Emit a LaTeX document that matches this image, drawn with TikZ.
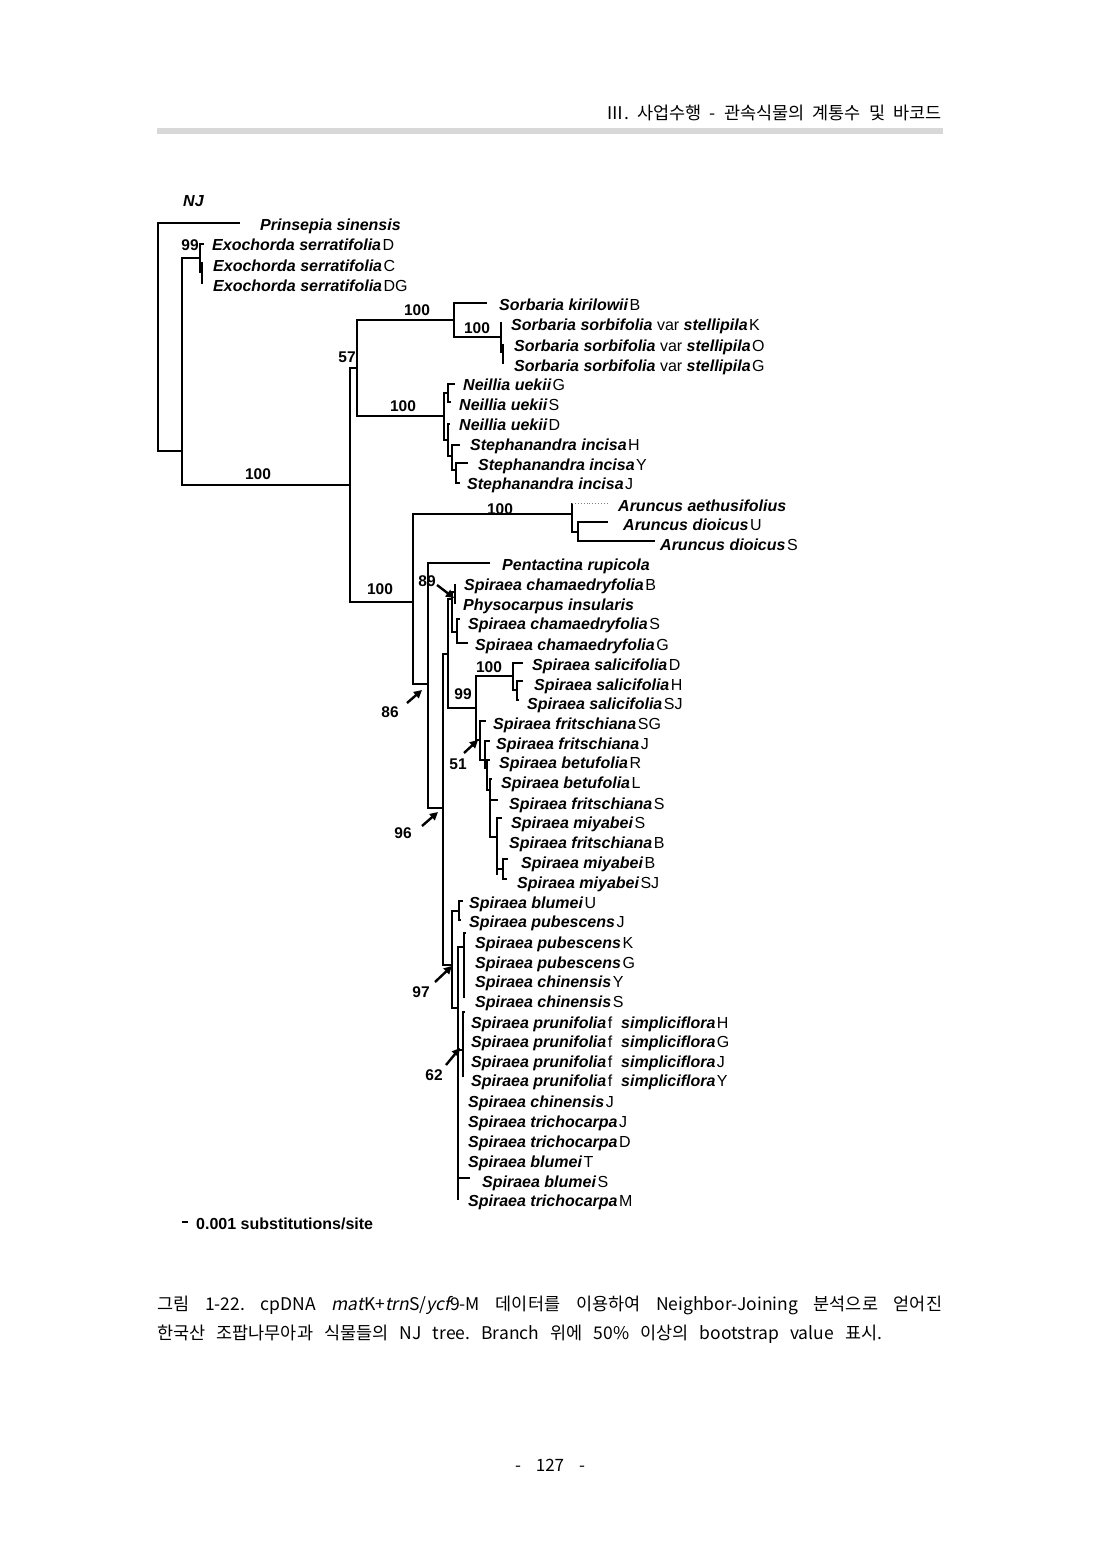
\documentclass[tikz,border=0pt]{standalone}
\usepackage{fontspec}
\setmainfont{Liberation Sans}
\newfontfamily\krfont{Noto Sans CJK KR}
\newfontfamily\kritfont[FakeSlant=0.2]{Noto Sans CJK KR}
\usetikzlibrary{arrows.meta}
\newcommand{\bi}[1]{{\bfseries\itshape #1}}
\newcommand{\taxon}[2]{\bi{#1}\hspace{1.5pt}#2}
\definecolor{barg}{RGB}{216,216,216}
\frenchspacing
\begin{document}
\begin{tikzpicture}[x=1pt,y=-1pt,
  br/.style={line width=1.1pt},
  lab/.style={anchor=base west, inner sep=0pt, font=\fontsize{16}{18}\selectfont},
  bs/.style={inner sep=0pt, font=\fontsize{15.5}{18}\selectfont\bfseries},
  arr/.style={line width=2.4pt, -{Triangle[length=8pt,width=8pt]}}]
\fill[white] (0,0) rectangle (1100,1554);
\useasboundingbox (0,0) rectangle (1100,1554);
% header
\node[anchor=base east, inner sep=0pt, font=\krfont\fontsize{17.5}{20}\selectfont] (hdr) at (942,120) {\makebox[335pt][s]{Ⅲ. 사업수행 - 관속식물의 계통수 및 바코드}};
\fill[barg] (157,128) rectangle (943,134);
% title
\node[anchor=base west, inner sep=0pt, font=\fontsize{16}{18}\selectfont] (nj) at (183,207) {\bi{NJ}};
% branches
\draw[br]
 (240,223)--(158,223)--(158,451)--(182,451)
 (201,258)--(182,258)--(182,485)--(350,485)
 (204,244)--(200,244)--(200,272)--(202,272)
 (202,262)--(202,284)
 (357,368)--(350,368)--(350,602)--(413,602)
 (454,320)--(357,320)--(357,416)--(444,416)
 (487,303)--(454,303)--(454,337)--(501,337)
 (501,322)--(501,352)--(503,352) (503,344)--(503,364)
 (448,393)--(444,393)--(444,440)--(448,440)
 (455,384)--(448,384)--(448,402)--(451,402)
 (450,424)--(448,424)--(448,456)--(452,456)
 (460,445)--(452,445)--(452,470)--(456,470)
 (468,463)--(456,463)--(456,483)--(460,483)
 (572,514)--(413,514)--(413,684)--(428,684)
 (572,503)--(572,532)--(578,532)
 (608,522)--(578,522)--(578,541)--(655,541)
 (490,563)--(428,563)--(428,808)--(443,808)
 (448,654)--(443,654)--(443,965)--(452,965)
 (452,599)--(448,599)--(448,708)--(476,708)
 (455,592)--(452,592)--(452,632)--(457,632)
 (455,584)--(455,604)
 (460,619)--(457,619)--(457,643)--(468,643)
 (513,676)--(476,676)--(476,740)--(480,740)
 (523,663)--(513,663)--(513,690)--(517,690)
 (523,681)--(517,681)--(517,700)--(519,700)
 (486,721)--(480,721)--(480,760)--(485,760)
 (490,741)--(485,741)--(485,768)--(487,768)
 (490,760)--(487,760)--(487,790)--(490,790)
 (492,779)--(490,779)--(490,837)--(497,837)
 (490,800)--(498,800)
 (502,818)--(497,818)--(497,875)
 (497,869)--(503,869)
 (508,859)--(503,859)--(503,879)--(507,879)
 (459,911)--(452,911)--(452,1008)--(458,1008)
 (463,901)--(459,901)--(459,920)--(461,920)
 (464,947)--(458,947)--(458,1200)
 (466,933)--(464,933)--(464,998)
 (458,1050)--(463,1050)
 (465,1012)--(463,1012)--(463,1077)
 (458,1178)--(470,1178);
\draw[line width=2.2pt] (497,840)--(497,855);
\draw[gray, dotted, line width=0.9pt] (572,503)--(609,503);
% taxa
\node[lab] (t1) at (260,231) {\bi{Prinsepia sinensis}};
\node[lab] (t2) at (212,251) {\taxon{Exochorda serratifolia}{D}};
\node[lab] (t3) at (213,271) {\taxon{Exochorda serratifolia}{C}};
\node[lab] (t4) at (213,291) {\taxon{Exochorda serratifolia}{DG}};
\node[lab] (t5) at (499,310) {\taxon{Sorbaria kirilowii}{B}};
\node[lab] (t6) at (511,330) {\bi{Sorbaria sorbifolia} var \taxon{stellipila}{K}};
\node[lab] (t7) at (514,351) {\bi{Sorbaria sorbifolia} var \taxon{stellipila}{O}};
\node[lab] (t8) at (514,371) {\bi{Sorbaria sorbifolia} var \taxon{stellipila}{G}};
\node[lab] (t9) at (463,390) {\taxon{Neillia uekii}{G}};
\node[lab] (t10) at (459,410) {\taxon{Neillia uekii}{S}};
\node[lab] (t11) at (459,430) {\taxon{Neillia uekii}{D}};
\node[lab] (t12) at (470,450) {\taxon{Stephanandra incisa}{H}};
\node[lab] (t13) at (478,470) {\taxon{Stephanandra incisa}{Y}};
\node[lab] (t14) at (467,489) {\taxon{Stephanandra incisa}{J}};
\node[lab] (t15) at (618,511) {\bi{Aruncus aethusifolius}};
\node[lab] (t16) at (623,530) {\taxon{Aruncus dioicus}{U}};
\node[lab] (t17) at (660,550) {\taxon{Aruncus dioicus}{S}};
\node[lab] (t18) at (502,570) {\bi{Pentactina rupicola}};
\node[lab] (t19) at (464,590) {\taxon{Spiraea chamaedryfolia}{B}};
\node[lab] (t20) at (463,610) {\bi{Physocarpus insularis}};
\node[lab] (t21) at (468,629) {\taxon{Spiraea chamaedryfolia}{S}};
\node[lab] (t22) at (475,650) {\taxon{Spiraea chamaedryfolia}{G}};
\node[lab] (t23) at (532,670) {\taxon{Spiraea salicifolia}{D}};
\node[lab] (t24) at (534,690) {\taxon{Spiraea salicifolia}{H}};
\node[lab] (t25) at (527,709) {\taxon{Spiraea salicifolia}{SJ}};
\node[lab] (t26) at (493,729) {\taxon{Spiraea fritschiana}{SG}};
\node[lab] (t27) at (496,749) {\taxon{Spiraea fritschiana}{J}};
\node[lab] (t28) at (499,768) {\taxon{Spiraea betufolia}{R}};
\node[lab] (t29) at (501,788) {\taxon{Spiraea betufolia}{L}};
\node[lab] (t30) at (509,809) {\taxon{Spiraea fritschiana}{S}};
\node[lab] (t31) at (511,828) {\taxon{Spiraea miyabei}{S}};
\node[lab] (t32) at (509,848) {\taxon{Spiraea fritschiana}{B}};
\node[lab] (t33) at (521,868) {\taxon{Spiraea miyabei}{B}};
\node[lab] (t34) at (517,888) {\taxon{Spiraea miyabei}{SJ}};
\node[lab] (t35) at (469,908) {\taxon{Spiraea blumei}{U}};
\node[lab] (t36) at (469,927) {\taxon{Spiraea pubescens}{J}};
\node[lab] (t37) at (475,948) {\taxon{Spiraea pubescens}{K}};
\node[lab] (t38) at (475,968) {\taxon{Spiraea pubescens}{G}};
\node[lab] (t39) at (475,987) {\taxon{Spiraea chinensis}{Y}};
\node[lab] (t40) at (475,1007) {\taxon{Spiraea chinensis}{S}};
\node[lab] (t41) at (471,1028) {\bi{Spiraea prunifolia}\hspace{1.5pt}f\ \ \taxon{simpliciflora}{H}};
\node[lab] (t42) at (471,1047) {\bi{Spiraea prunifolia}\hspace{1.5pt}f\ \ \taxon{simpliciflora}{G}};
\node[lab] (t43) at (471,1067) {\bi{Spiraea prunifolia}\hspace{1.5pt}f\ \ \taxon{simpliciflora}{J}};
\node[lab] (t44) at (471,1086) {\bi{Spiraea prunifolia}\hspace{1.5pt}f\ \ \taxon{simpliciflora}{Y}};
\node[lab] (t45) at (468,1107) {\taxon{Spiraea chinensis}{J}};
\node[lab] (t46) at (468,1127) {\taxon{Spiraea trichocarpa}{J}};
\node[lab] (t47) at (468,1147) {\taxon{Spiraea trichocarpa}{D}};
\node[lab] (t48) at (468,1167) {\taxon{Spiraea blumei}{T}};
\node[lab] (t49) at (482,1187) {\taxon{Spiraea blumei}{S}};
\node[lab] (t50) at (468,1206) {\taxon{Spiraea trichocarpa}{M}};
% bootstrap values
\node[bs] (b1) at (190,245) {99};
\node[bs] (b2) at (417,310) {100};
\node[bs] (b3) at (477,328) {100};
\node[bs] (b4) at (347,357) {57};
\node[bs] (b5) at (403,406) {100};
\node[bs] (b6) at (258,474) {100};
\node[bs] (b7) at (500,509) {100};
\node[bs] (b8) at (380,589) {100};
\node[bs] (b9) at (427,581) {89};
\node[bs] (b10) at (489,667) {100};
\node[bs] (b11) at (463,694) {99};
\node[bs] (b12) at (390,712) {86};
\node[bs] (b13) at (458,764) {51};
\node[bs] (b14) at (403,833) {96};
\node[bs] (b15) at (421,992) {97};
\node[bs] (b16) at (434,1075) {62};
% arrows
\coordinate (a9s) at (437,585); \coordinate (a9e) at (454,598);
\coordinate (a12s) at (407,703); \coordinate (a12e) at (422,690);
\coordinate (a13s) at (464,753); \coordinate (a13e) at (478,740);
\coordinate (a14s) at (422,826); \coordinate (a14e) at (438,812);
\coordinate (a15s) at (435,982); \coordinate (a15e) at (452,966);
\coordinate (a16s) at (446,1065); \coordinate (a16e) at (460,1048);
\draw[arr] (a9s) -- (a9e);
\draw[arr] (a12s) -- (a12e);
\draw[arr] (a13s) -- (a13e);
\draw[arr] (a14s) -- (a14e);
\draw[arr] (a15s) -- (a15e);
\draw[arr] (a16s) -- (a16e);
% scale bar
\coordinate (sb1) at (182,1222); \coordinate (sb2) at (188,1222);
\draw[line width=1.1pt] (sb1) -- (sb2);
\node[anchor=base west, inner sep=0pt, font=\fontsize{16}{18}\selectfont\bfseries] (sc) at (196,1229) {0.001 substitutions/site};
% caption
\node[anchor=base west, inner sep=0pt, font=\krfont\fontsize{17.5}{20}\selectfont] (cap1) at (157,1310)
 {\makebox[785pt][s]{그림 1-22. cpDNA {\kritfont mat}K+{\kritfont trn}S/{\kritfont ycf}9-M 데이터를 이용하여 Neighbor-Joining 분석으로 얻어진}};
\node[anchor=base west, inner sep=0pt, font=\krfont\fontsize{17.5}{20}\selectfont] (cap2) at (157,1339)
 {\makebox[725pt][s]{한국산 조팝나무아과 식물들의 NJ tree. Branch 위에 50\% 이상의 bootstrap value 표시.}};
\node[inner sep=0pt, font=\krfont\fontsize{17}{20}\selectfont] (pg) at (550,1465) {\makebox[70pt][s]{- 127 -}};
\end{tikzpicture}
\end{document}
